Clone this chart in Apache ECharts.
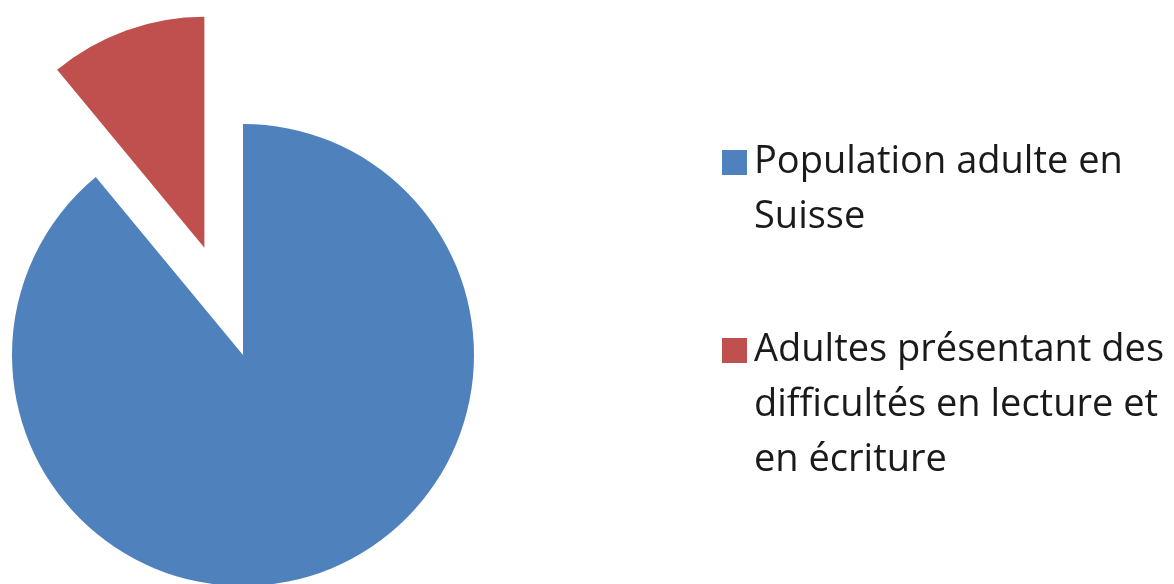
<!DOCTYPE html>
<html>
<head>
<meta charset="utf-8">
<script src="https://cdn.jsdelivr.net/npm/echarts@6/dist/echarts.min.js"></script>
<style>
  html, body { margin: 0; padding: 0; background: #fff; }
  #chart { width: 1174px; height: 584px; }
</style>
</head>
<body>
<div id="chart"></div>
<script>
// données
var categories = ["Population adulte en Suisse", "Adultes présentant des difficultés en lecture et en écriture"];
var values = [89, 11];
var legendLines = [
  ["Population adulte en", "Suisse"],
  ["Adultes présentant des", "difficultés en lecture et", "en écriture"]
];
var colors = ["#4F81BD", "#C0504D"];

var myChart = echarts.init(document.getElementById("chart"));

// l'icône doit rester sur la première ligne : on ajoute des lignes vides au-dessus
function makeLegend(i, top) {
  var lines = legendLines[i];
  var pad = [];
  for (var k = 1; k < lines.length; k++) pad.push("");
  return {
    data: [categories[i]],
    left: 717,
    top: top,
    orient: "vertical",
    icon: "rect",
    itemWidth: 25,
    itemHeight: 25,
    selectedMode: false,
    formatter: function () {
      return pad.concat(lines).join("\n");
    },
    textStyle: {
      fontFamily: "Open Sans",
      fontSize: 38,
      color: "#1a1a1a",
      lineHeight: 55,
      padding: [0, 0, 0, 2]
    }
  };
}

var config = {
  animation: false,
  color: colors,
  legend: [makeLegend(0, 75), makeLegend(1, 208)],
  series: [
    {
      type: "pie",
      center: [243, 355],
      radius: 231,
      startAngle: 90,
      clockwise: true,
      selectedMode: "single",
      selectedOffset: 114,
      label: { show: false },
      labelLine: { show: false },
      itemStyle: { borderWidth: 0 },
      emphasis: { disabled: true },
      data: categories.map(function (name, i) {
        return {
          name: name,
          value: values[i],
          selected: i === 1,
          itemStyle: { color: colors[i] },
          select: { itemStyle: { color: colors[i], borderWidth: 0 } }
        };
      })
    }
  ]
};

myChart.setOption(config);
</script>
</body>
</html>
